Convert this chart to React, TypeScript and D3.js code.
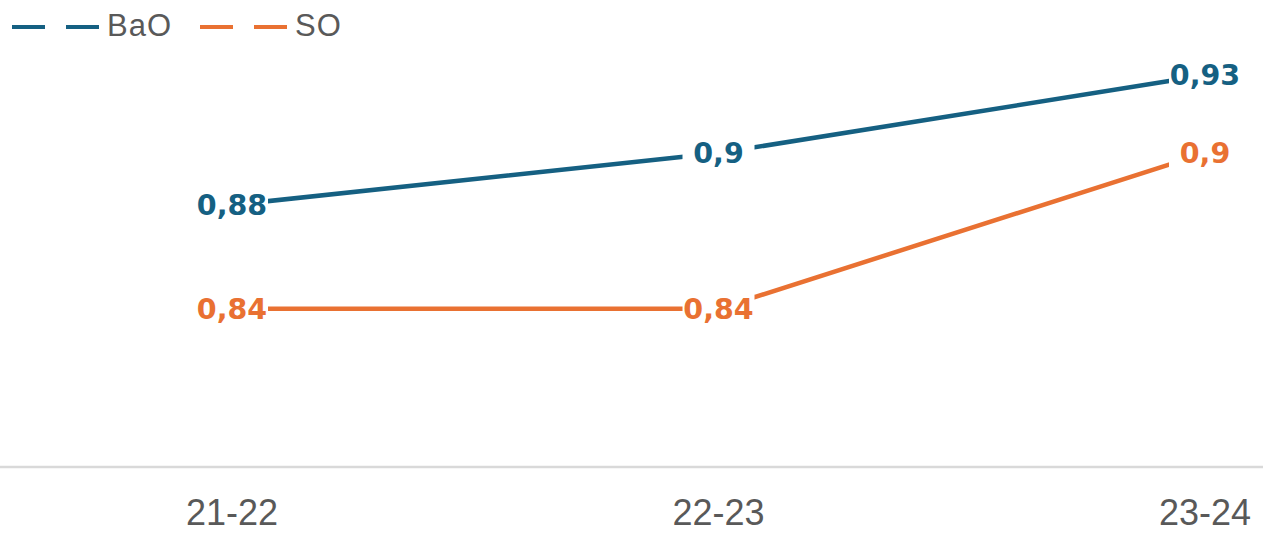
import React from "react";
import * as d3 from "d3";

const categories = ["21-22", "22-23", "23-24"];
const baoValues = [0.88, 0.9, 0.93];
const soValues = [0.84, 0.84, 0.9];
const baoLabels = ["0,88", "0,9", "0,93"];
const soLabels = ["0,84", "0,84", "0,9"];
const seriesNames = ["BaO", "SO"];

const W = 1263;
const H = 533;
const BLUE = "#156082";
const ORANGE = "#E97132";
const GRAY = "#595959";

export default function App() {
  const x = d3.scalePoint<string>().domain(categories).range([232, 1205]);
  const y = d3.scaleLinear().domain([0.779, 0.959]).range([467, 0]);
  const line = d3
    .line<number>()
    .x((_, i) => x(categories[i]) as number)
    .y((d) => y(d));

  const series = [
    { name: seriesNames[0], values: baoValues, labels: baoLabels, color: BLUE },
    { name: seriesNames[1], values: soValues, labels: soLabels, color: ORANGE },
  ];

  const legendItems = [
    { name: seriesNames[0], color: BLUE, x0: 12 },
    { name: seriesNames[1], color: ORANGE, x0: 200 },
  ];

  return (
    <svg
      width={W}
      height={H}
      style={{ position: "absolute", left: 0, top: 0, background: "#fff" }}
    >
      <line x1={0} x2={W} y1={467} y2={467} stroke="#d9d9d9" strokeWidth={2.5} />
      {categories.map((c) => (
        <text
          key={c}
          x={x(c)}
          y={525}
          textAnchor="middle"
          fontFamily="'Liberation Sans', Arial, sans-serif"
          fontSize={36}
          fill={GRAY}
        >
          {c}
        </text>
      ))}
      {series.map((s) => (
        <path
          key={s.name}
          d={line(s.values) || ""}
          fill="none"
          stroke={s.color}
          strokeWidth={4.5}
          strokeLinecap="round"
          strokeLinejoin="round"
        />
      ))}
      {series.map((s) =>
        s.values.map((v, i) => (
          <g key={s.name + i}>
            <rect
              x={(x(categories[i]) as number) - 36}
              y={y(v) - 14}
              width={72}
              height={28}
              fill="#fff"
            />
            <text
              x={x(categories[i])}
              y={y(v)}
              dy="0.36em"
              textAnchor="middle"
              fontFamily="'DejaVu Sans', sans-serif"
              fontWeight="bold"
              fontSize={28.5}
              fill={s.color}
            >
              {s.labels[i]}
            </text>
          </g>
        ))
      )}
      {legendItems.map((l) => (
        <g key={l.name}>
          <line
            x1={l.x0}
            x2={l.x0 + 88}
            y1={27}
            y2={27}
            stroke={l.color}
            strokeWidth={4}
            strokeDasharray="33 21"
          />
          <text
            x={l.x0 + 95}
            y={36}
            fontFamily="'Liberation Sans', Arial, sans-serif"
            fontSize={31}
            fill={GRAY}
            letterSpacing={1}
          >
            {l.name}
          </text>
        </g>
      ))}
    </svg>
  );
}
